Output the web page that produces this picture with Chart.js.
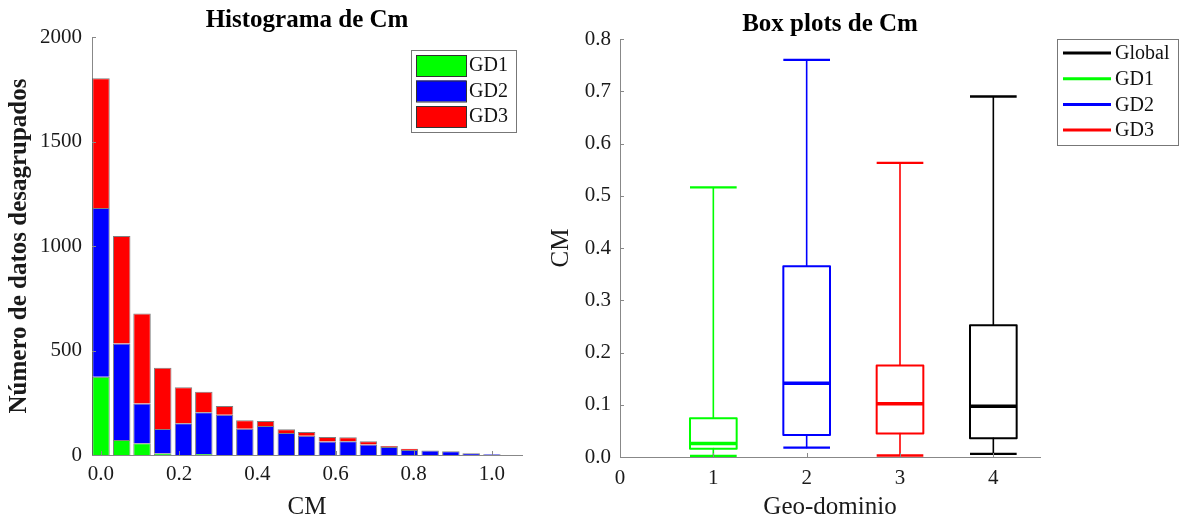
<!DOCTYPE html>
<html>
<head>
<meta charset="utf-8">
<script src="https://cdn.jsdelivr.net/npm/chart.js@4.4.1/dist/chart.umd.min.js"></script>
<style>
  html, body { margin: 0; padding: 0; background: #fff; }
  #wrap { position: relative; width: 1179px; height: 525px; }
  #histChart { position: absolute; left: 0; top: 0; }
  #boxChart { position: absolute; left: 540px; top: 0; }
</style>
</head>
<body>
<div id="wrap">
  <canvas id="histChart" width="540" height="525"></canvas>
  <canvas id="boxChart" width="639" height="525"></canvas>
</div>
<script>
// histogram bins (centres) and stacked counts per geo-domain
const binCenters = [0, 0.053, 0.105, 0.158, 0.211, 0.263, 0.316, 0.368, 0.421, 0.474,
                    0.526, 0.579, 0.632, 0.684, 0.737, 0.789, 0.842, 0.895, 0.947, 1.0];
const gd1Counts = [374, 72, 56, 8, 0, 5, 0, 0, 0, 0, 0, 0, 0, 0, 0, 0, 0, 0, 0, 0];
const gd2Counts = [808, 461, 191, 117, 152, 199, 193, 126, 139, 105, 92, 65, 66, 50, 38, 24, 21, 18, 8, 4];
const gd3Counts = [621, 515, 430, 292, 172, 99, 42, 40, 24, 18, 18, 21, 19, 16, 5, 6, 1, 0, 0, 0];
const histTicks = [0, 0.2, 0.4, 0.6, 0.8, 1.0];

// box plot summaries, one entry per geo-domain
const groups = ['GD1', 'GD2', 'GD3', 'Global'];
const groupX = [1, 2, 3, 4];
const boxMin = [0.002, 0.018, 0.003, 0.006];
const boxQ1 = [0.016, 0.042, 0.045, 0.036];
const boxMedian = [0.026, 0.141, 0.102, 0.097];
const boxQ3 = [0.074, 0.365, 0.175, 0.252];
const boxMax = [0.516, 0.760, 0.563, 0.690];
const boxTicks = [0, 1, 2, 3, 4];
const legendOrder = ['Global', 'GD1', 'GD2', 'GD3'];

const colors = { GD1: '#00ff00', GD2: '#0000ff', GD3: '#ff0000', Global: '#000000' };

const serif = "'Liberation Serif', 'Times New Roman', serif";
Chart.defaults.font.family = serif;
Chart.defaults.color = '#1a1a1a';

// title centred over the plot area, not the whole canvas
const areaTitle = {
  id: 'areaTitle',
  afterDraw(chart, args, opts) {
    const { ctx, chartArea } = chart;
    ctx.save();
    ctx.font = `bold ${opts.size}px ${serif}`;
    ctx.fillStyle = '#000';
    ctx.textAlign = 'center';
    ctx.textBaseline = 'middle';
    ctx.fillText(opts.text, (chartArea.left + chartArea.right) / 2, opts.y);
    ctx.restore();
  }
};

// short tick marks pointing into the plot
const innerTicks = {
  id: 'innerTicks',
  afterDraw(chart) {
    const { ctx, chartArea, scales } = chart;
    ctx.save();
    ctx.strokeStyle = '#888';
    ctx.lineWidth = 1;
    ctx.beginPath();
    scales.y.ticks.forEach(t => {
      const py = Math.round(scales.y.getPixelForValue(t.value)) + 0.5;
      ctx.moveTo(chartArea.left, py);
      ctx.lineTo(chartArea.left + 4, py);
    });
    scales.x.ticks.forEach(t => {
      const px = Math.round(scales.x.getPixelForValue(t.value)) + 0.5;
      ctx.moveTo(px, chartArea.bottom);
      ctx.lineTo(px, chartArea.bottom - 4);
    });
    ctx.stroke();
    ctx.restore();
  }
};

// boxed legend placed inside the figure
const boxLegend = {
  id: 'boxLegend',
  afterDraw(chart, args, o) {
    const ctx = chart.ctx;
    ctx.save();
    ctx.fillStyle = '#fff';
    ctx.fillRect(o.x, o.y, o.w, o.h);
    ctx.strokeStyle = '#777';
    ctx.lineWidth = 1;
    ctx.strokeRect(o.x + 0.5, o.y + 0.5, o.w, o.h);
    ctx.font = `${o.size}px ${serif}`;
    ctx.textBaseline = 'middle';
    o.items.forEach((it, i) => {
      const cy = o.y + o.first + i * o.rowH;
      if (o.kind === 'swatch') {
        ctx.fillStyle = it.color;
        ctx.fillRect(o.x + 5, cy - 10, 50, 21);
        ctx.strokeStyle = '#333';
        ctx.lineWidth = 1;
        ctx.strokeRect(o.x + 5.5, cy - 9.5, 50, 21);
      } else {
        ctx.strokeStyle = it.color;
        ctx.lineWidth = 3;
        ctx.beginPath();
        ctx.moveTo(o.x + 6, cy);
        ctx.lineTo(o.x + 54, cy);
        ctx.stroke();
      }
      ctx.fillStyle = '#111';
      ctx.fillText(it.label, o.x + o.textX, cy + 1);
    });
    ctx.restore();
  }
};

// ---- histogram ----
const histSets = [
  { label: 'GD1', counts: gd1Counts },
  { label: 'GD2', counts: gd2Counts },
  { label: 'GD3', counts: gd3Counts }
].map(s => ({
  label: s.label,
  data: binCenters.map((x, i) => ({ x, y: s.counts[i] })),
  backgroundColor: colors[s.label],
  borderColor: 'rgba(0,0,0,0.5)',
  borderWidth: 1,
  barPercentage: 0.86,
  categoryPercentage: 1
}));

new Chart(document.getElementById('histChart'), {
  type: 'bar',
  data: { datasets: histSets },
  options: {
    responsive: false,
    animation: false,
    layout: { padding: { top: 37, right: 18, left: 0, bottom: 0 } },
    plugins: {
      legend: { display: false },
      tooltip: { enabled: false },
      areaTitle: { text: 'Histograma de Cm', size: 25, y: 21 },
      boxLegend: {
        kind: 'swatch', x: 411, y: 50, w: 105, h: 82, first: 15, rowH: 25.5, textX: 58, size: 20,
        items: histSets.map(d => ({ label: d.label, color: d.backgroundColor }))
      }
    },
    scales: {
      x: {
        type: 'linear',
        stacked: true,
        offset: false,
        min: -0.023,
        max: 1.077,
        afterBuildTicks: s => { s.ticks = histTicks.map(v => ({ value: v })); },
        afterFit: s => { s.height = 70; },
        ticks: { callback: v => v.toFixed(1), font: { size: 21 }, padding: 7, maxRotation: 0, autoSkip: false },
        grid: { display: false, drawTicks: false },
        border: { color: '#888' },
        title: { display: true, text: 'CM', font: { size: 25 }, padding: { top: 0, bottom: 3 } }
      },
      y: {
        stacked: true,
        min: 0,
        max: 2000,
        afterFit: s => { s.width = 92; },
        ticks: { stepSize: 500, callback: v => String(v), font: { size: 21 }, padding: 10 },
        grid: { display: false, drawTicks: false },
        border: { color: '#888' },
        title: {
          display: true, text: 'Número de datos desagrupados',
          font: { size: 25, weight: 'bold' }, padding: { top: 5, bottom: 0 }
        }
      }
    }
  },
  plugins: [areaTitle, innerTicks, boxLegend]
});

// ---- box plots ----
// each box is built from line segments; null points break the path
function part(color, width, pts) {
  return {
    data: pts,
    borderColor: color,
    borderWidth: width,
    pointRadius: 0,
    fill: false,
    tension: 0,
    spanGaps: false,
    borderJoinStyle: 'round',
    borderCapStyle: 'butt'
  };
}

const boxSets = [];
groups.forEach((g, i) => {
  const x = groupX[i], hw = 0.25, c = colors[g];
  const gap = { x, y: null };
  boxSets.push(part(c, 1.6, [
    { x, y: boxQ3[i] }, { x, y: boxMax[i] }, gap,
    { x, y: boxQ1[i] }, { x, y: boxMin[i] }
  ]));
  boxSets.push(part(c, 2.4, [
    { x: x - hw, y: boxMax[i] }, { x: x + hw, y: boxMax[i] }, gap,
    { x: x - hw, y: boxMin[i] }, { x: x + hw, y: boxMin[i] }
  ]));
  boxSets.push(part(c, 2, [
    { x: x - hw, y: boxQ1[i] }, { x: x + hw, y: boxQ1[i] },
    { x: x + hw, y: boxQ3[i] }, { x: x - hw, y: boxQ3[i] },
    { x: x - hw, y: boxQ1[i] }
  ]));
  boxSets.push(part(c, 3.5, [
    { x: x - hw, y: boxMedian[i] }, { x: x + hw, y: boxMedian[i] }
  ]));
});

new Chart(document.getElementById('boxChart'), {
  type: 'line',
  data: { datasets: boxSets },
  options: {
    responsive: false,
    animation: false,
    layout: { padding: { top: 39, right: 139, left: 0, bottom: 0 } },
    plugins: {
      legend: { display: false },
      tooltip: { enabled: false },
      areaTitle: { text: 'Box plots de Cm', size: 25, y: 25 },
      boxLegend: {
        kind: 'line', x: 517, y: 39, w: 121, h: 106, first: 14, rowH: 25.7, textX: 58, size: 20,
        items: legendOrder.map(g => ({ label: g, color: colors[g] }))
      }
    },
    scales: {
      x: {
        type: 'linear',
        min: 0,
        max: 4.5,
        afterBuildTicks: s => { s.ticks = boxTicks.map(v => ({ value: v })); },
        afterFit: s => { s.height = 68; },
        ticks: { callback: v => String(v), font: { size: 21 }, padding: 9, maxRotation: 0, autoSkip: false },
        grid: { display: false, drawTicks: false },
        border: { color: '#888' },
        title: { display: true, text: 'Geo-dominio', font: { size: 25 }, padding: { top: 0, bottom: 3 } }
      },
      y: {
        min: 0,
        max: 0.8,
        afterFit: s => { s.width = 80; },
        ticks: { stepSize: 0.1, callback: v => v.toFixed(1), font: { size: 21 }, padding: 9 },
        grid: { display: false, drawTicks: false },
        border: { color: '#888' },
        title: { display: true, text: 'CM', font: { size: 25 }, padding: { top: 6, bottom: 0 } }
      }
    }
  },
  plugins: [areaTitle, innerTicks, boxLegend]
});
</script>
</body>
</html>
